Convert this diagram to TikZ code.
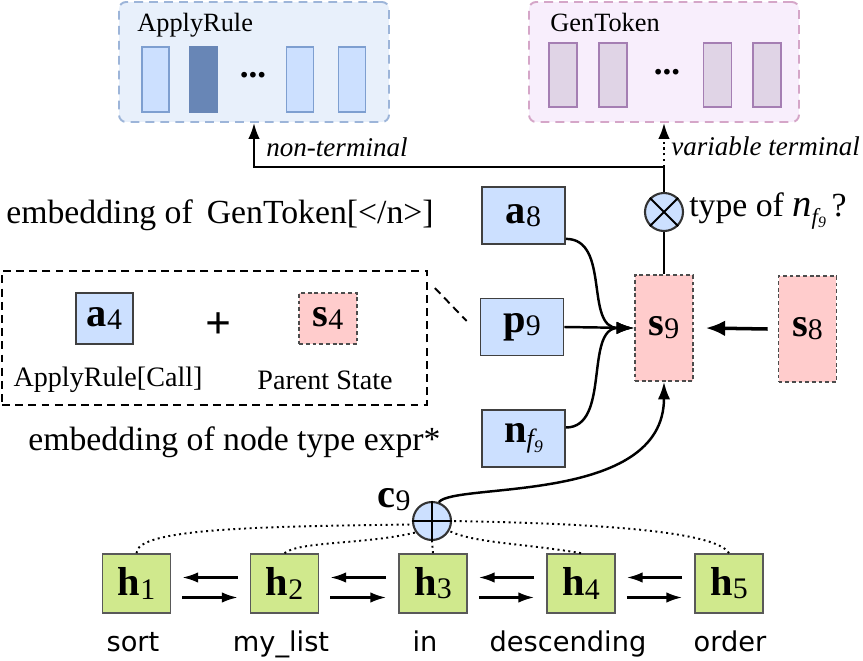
\documentclass[tikz,border=0pt]{standalone}
\usepackage{fontspec}
\setmainfont{Liberation Serif}
\newfontfamily\wordfont{DejaVu Sans}
\usetikzlibrary{arrows.meta}

\definecolor{boxblue}{HTML}{CCE0FF}
\definecolor{boxred}{HTML}{FFCCCC}
\definecolor{boxgreen}{HTML}{D0E98D}
\definecolor{ruleback}{HTML}{E8F0FB}
\definecolor{ruleedge}{HTML}{9DB5D9}
\definecolor{rulebar}{HTML}{7E9FD0}
\definecolor{ruledark}{HTML}{6886B6}
\definecolor{tokback}{HTML}{F8EEFC}
\definecolor{tokedge}{HTML}{D5A6C8}
\definecolor{tokbar}{HTML}{E0D4E6}
\definecolor{tokbaredge}{HTML}{A57EB3}

% bold vector with a plain subscript
\newcommand{\vlab}[2]{{\fontsize{23}{25}\selectfont\textbf{#1}}\raisebox{-0.4ex}{\fontsize{17}{19}\selectfont #2}}

\tikzset{
  emb/.style={draw=black!75, fill=boxblue, line width=1pt, inner sep=0pt},
  state/.style={draw=black!70, fill=boxred, line width=0.9pt, dash pattern=on 2.2pt off 1.6pt, inner sep=0pt},
  hid/.style={draw=black!65, fill=boxgreen, line width=1pt, inner sep=0pt,
    minimum width=1.36cm, minimum height=1.18cm},
  widebox/.style={minimum width=1.66cm, minimum height=1.14cm},
  tallbox/.style={minimum width=1.16cm, minimum height=2.12cm},
  smallbox/.style={minimum width=1.15cm, minimum height=1.02cm},
  panel/.style={line width=1.1pt, dash pattern=on 5pt off 3.5pt, rounded corners=0.14cm,
    minimum width=5.4cm, minimum height=2.4cm, inner sep=0pt},
  rulecell/.style={draw=rulebar, fill=boxblue, line width=0.9pt, minimum width=0.54cm, minimum height=1.3cm, inner sep=0pt},
  tokcell/.style={draw=tokbaredge, fill=tokbar, line width=0.9pt, minimum width=0.56cm, minimum height=1.28cm, inner sep=0pt},
  op/.style={circle, draw=black!80, fill=boxblue, line width=1.2pt, minimum size=0.76cm, inner sep=0pt},
  link/.style={line width=1.4pt},
  dots/.style={dotted, line width=1.1pt},
  bigtxt/.style={font=\fontsize{19.2}{21}\selectfont, inner sep=0pt},
  midtxt/.style={font=\fontsize{16}{18}\selectfont, inner sep=0pt},
  wordtxt/.style={font=\wordfont\fontsize{15.5}{17}\selectfont, inner sep=0pt, anchor=base},
}

\begin{document}
\begin{tikzpicture}[x=0.02cm, y=-0.02cm]
\useasboundingbox (0,0) rectangle (863,660);

% output layers
\node[panel, draw=ruleedge, fill=ruleback] (rulebox) at (254,62) {};
\node[font=\fontsize{15}{17}\selectfont, inner sep=0pt, anchor=west] (rulename) at (137,25) {ApplyRule};
\node[rulecell] (r1) at (155.5,79.5) {};
\node[rulecell, fill=ruledark, draw=ruledark] (r2) at (203.5,79.5) {};
\node[font=\fontsize{20}{22}\selectfont\bfseries] (rdots) at (253,75) {...};
\node[rulecell] (r3) at (300,79.5) {};
\node[rulecell] (r4) at (352,79.5) {};

\node[panel, draw=tokedge, fill=tokback] (tokbox) at (664,62) {};
\node[font=\fontsize{15}{17}\selectfont, inner sep=0pt, anchor=west] (tokname) at (550,22) {GenToken};
\node[tokcell] (t1) at (563,75) {};
\node[tokcell] (t2) at (613,75) {};
\node[font=\fontsize{20}{22}\selectfont\bfseries] (tdots) at (667,72) {...};
\node[tokcell] (t3) at (717.5,75) {};
\node[tokcell] (t4) at (767,75) {};

% decoder step
\node[op] (ot) at (664,212) {};
\draw[line width=1.1pt] (ot.45) -- (ot.225) (ot.135) -- (ot.-45);
\node[bigtxt, anchor=west] (otlab) at (689,211) {type of {\fontsize{22}{23}\selectfont\itshape n}\raisebox{-0.5ex}{\fontsize{13}{14}\selectfont\itshape f\raisebox{-0.35ex}{\fontsize{9}{10}\selectfont 9}}\,?};
\coordinate (split) at (664,167);

\node[state, tallbox] (s9) at (664,328) {\vlab{s}{9}};
\node[state, tallbox] (s8) at (807.5,329) {\vlab{s}{8}};
\node[emb, widebox] (a8) at (523.5,215.5) {\vlab{a}{8}};
\node[emb, widebox] (p9) at (522,327) {\vlab{p}{9}};
\node[emb, widebox] (nf) at (523.5,438.5) {{\fontsize{23}{25}\selectfont\textbf{n}}\raisebox{-0.6ex}{\fontsize{15}{16}\selectfont\itshape f\raisebox{-0.4ex}{\fontsize{10}{11}\selectfont 9}}};

\draw[link] (s9.north) -- (ot.south);
\draw[link] (ot.north) -- (split);
\draw[line width=1.3pt, -{Latex[length=9pt,width=6.5pt]}] (split) -| (rulebox.south);
\draw[dots, line width=1.3pt, -{Latex[length=9pt,width=6.5pt]}] (split) -- (tokbox.south);
\node[anchor=west, inner sep=0pt, font=\fontsize{15.4}{17}\selectfont\itshape] (ntlab) at (266,147) {non-terminal};
\node[anchor=west, inner sep=0pt, font=\fontsize{15.4}{17}\selectfont\itshape] (vtlab) at (671,146) {variable terminal};

\draw[link, -{Latex[length=10pt,width=7pt]}] ([shift={(0,-6)}]a8.south east) .. controls +(45,0) and +(-50,0) .. (s9.west);
\draw[link, -{Latex[length=10pt,width=7pt]}] (p9.east) -- (s9.west);
\draw[link, -{Latex[length=10pt,width=7pt]}] ([shift={(0,-11)}]nf.east) .. controls +(45,0) and +(-50,0) .. (s9.west);
\draw[line width=2pt, -{Latex[length=11pt,width=9pt]}] ([shift={(-10,0)}]s8.west) -- ([shift={(12,0)}]s9.east);

% parent feeding
\node[draw, line width=1.1pt, dash pattern=on 4.5pt off 3pt, minimum width=8.5cm, minimum height=2.68cm, inner sep=0pt] (frame) at (214.5,338) {};
\node[emb, smallbox] (a4) at (104.5,318.5) {\vlab{a}{4}};
\node[state, smallbox] (s4) at (328,318.5) {\vlab{s}{4}};
\node[font=\fontsize{26}{28}\selectfont\bfseries, inner sep=0pt] (plus) at (219,326) {+};
\node[midtxt] (a4lab) at (108,380) {ApplyRule[Call]};
\node[midtxt] (s4lab) at (325,380) {Parent State};
\draw[line width=1.1pt, dash pattern=on 4.5pt off 3pt] ([shift={(7,18)}]frame.north east) -- ([shift={(-13,-6)}]p9.west);
\node[bigtxt, anchor=west] (embtop) at (6,215) {embedding of \,GenToken[</n>]};
\node[bigtxt, anchor=west] (embbot) at (28,442) {embedding of node type expr*};

% encoder
\foreach \i/\x in {1/136.5, 2/284.5, 3/433, 4/581, 5/729}
  \node[hid] (h\i) at (\x,583.5) {\vlab{h}{\i}};
\foreach \i/\x/\w in {1/133/sort, 2/281/my\_list, 3/425/in, 4/568/descending, 5/730/order}
  \node[wordtxt] (w\i) at (\x,651) {\w};
\foreach \i/\j in {1/2, 2/3, 3/4, 4/5} {
  \draw[line width=1.3pt, -{Latex[length=9pt,width=6pt]}] ([shift={(-12,-6)}]h\j.west) -- ([shift={(11,-6)}]h\i.east);
  \draw[line width=1.3pt, -{Latex[length=9pt,width=6pt]}] ([shift={(11,14)}]h\i.east) -- ([shift={(-12,14)}]h\j.west);
}

\node[op] (op) at (432,521) {};
\draw[line width=1.1pt] (op.north) -- (op.south) (op.west) -- (op.east);
\node[inner sep=0pt] (c9) at (394,500) {\vlab{c}{9}};

\draw[dots] (h1.north) .. controls +(0,-25) and +(-150,2) .. (op.190);
\draw[dots] (h2.north) .. controls +(15,-12) and +(-50,12) .. (op.215);
\draw[dots] (h3.north) -- (op.south);
\draw[dots] (h4.north) .. controls +(-60,-10) and +(25,12) .. (op.-30);
\draw[dots] (h5.north) .. controls +(-15,-25) and +(110,2) .. (op.east);

\draw[link, -{Latex[length=10pt,width=7pt]}] (op.70) .. controls (455,482) and (664,505) .. (s9.south);
\end{tikzpicture}
\end{document}
